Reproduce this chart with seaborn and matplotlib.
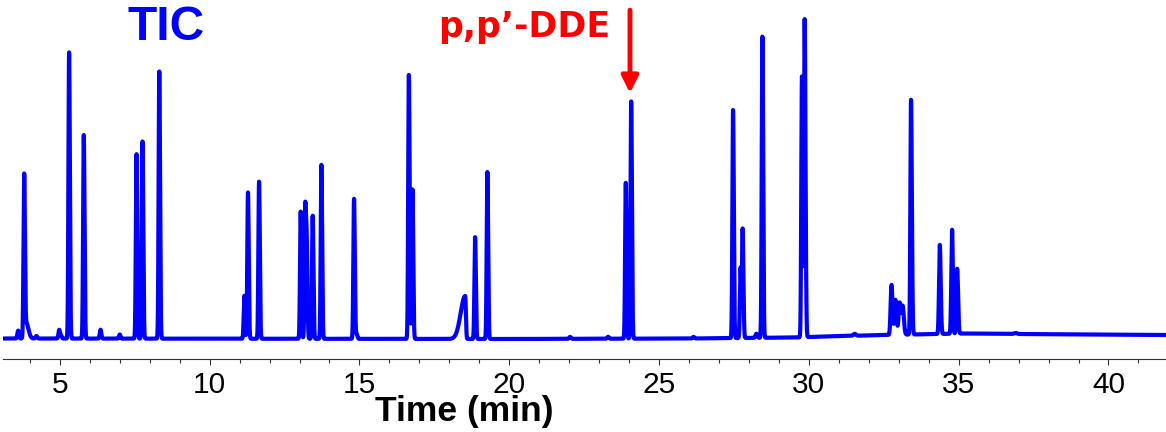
import numpy as np
import pandas as pd
import matplotlib
matplotlib.use("Agg")
import matplotlib.pyplot as plt
import seaborn as sns

# Peak table of the total ion chromatogram (retention time in min,
# height in % of the base peak, left/right peak widths in min)
rt = [3.61, 3.81, 3.88, 3.95, 4.22, 4.98, 5.04, 5.31, 5.80, 6.36, 7.00,
      7.56, 7.76, 8.32, 11.16, 11.28, 11.65, 13.04, 13.19, 13.24, 13.44,
      13.73, 14.82, 14.90, 16.65, 16.77, 18.53, 18.86, 19.27, 22.03, 23.30,
      23.89, 24.07, 26.15, 27.47, 27.72, 27.79, 28.25, 28.45, 29.77, 29.86,
      31.53, 32.76, 32.89, 33.03, 33.13, 33.41, 34.37, 34.78, 34.95, 36.90]
height = [2.5, 50.3, 4.0, 1.5, 0.8, 2.7, 1.0, 90.0, 64.0, 2.8, 1.3,
          58.0, 62.0, 84.0, 13.5, 46.0, 49.4, 40.0, 40.5, 28.0, 38.7,
          54.7, 44.0, 1.5, 83.0, 47.0, 13.5, 32.0, 52.5, 0.6, 0.6,
          49.0, 74.6, 0.5, 71.7, 22.0, 34.3, 1.3, 94.7, 82.0, 100.0,
          0.6, 15.7, 11.0, 10.0, 9.0, 73.8, 28.0, 32.7, 20.4, 0.3]
width_left = [0.025, 0.022, 0.05, 0.06, 0.03, 0.025, 0.025, 0.022, 0.022, 0.025, 0.025,
              0.022, 0.022, 0.022, 0.022, 0.022, 0.022, 0.022, 0.022, 0.022, 0.022,
              0.022, 0.022, 0.03, 0.022, 0.022, 0.15, 0.022, 0.022, 0.03, 0.03,
              0.022, 0.022, 0.03, 0.022, 0.022, 0.022, 0.03, 0.022, 0.022, 0.022,
              0.04, 0.03, 0.035, 0.035, 0.035, 0.022, 0.025, 0.025, 0.025, 0.05]
width_right = [0.025, 0.025, 0.05, 0.06, 0.03, 0.025, 0.025, 0.025, 0.025, 0.025, 0.025,
               0.025, 0.025, 0.025, 0.022, 0.025, 0.025, 0.025, 0.025, 0.025, 0.025,
               0.025, 0.025, 0.03, 0.025, 0.025, 0.022, 0.025, 0.025, 0.03, 0.03,
               0.025, 0.025, 0.03, 0.025, 0.022, 0.025, 0.03, 0.025, 0.022, 0.028,
               0.04, 0.03, 0.035, 0.035, 0.04, 0.028, 0.03, 0.025, 0.03, 0.05]

# Baseline drift of the detector signal (min, %)
base_t = [3.1, 20.0, 26.0, 29.5, 30.5, 32.5, 35.2, 37.0, 42.0]
base_v = [-0.16, -0.31, -0.16, 0.16, 0.47, 0.94, 1.42, 1.26, 0.94]

x_ticks = [5, 10, 15, 20, 25, 30, 35, 40]

# Build the trace from the peak table
t = np.arange(3.1, 41.95, 0.002)
signal = np.interp(t, base_t, base_v)
for c, h, sl, sr in zip(rt, height, width_left, width_right):
    s = np.where(t < c, sl, sr)
    signal = signal + h * np.exp(-0.5 * ((t - c) / s) ** 2)
trace = pd.DataFrame({"Time (min)": t, "Abundance": signal})

sns.set_style("white")
plt.rcParams["font.family"] = ["Liberation Sans", "DejaVu Sans"]

fig = plt.figure(figsize=(11.66, 4.32), dpi=100)
ax = fig.add_axes([3 / 1166, 73 / 432, 1163 / 1166, 359 / 432])

sns.lineplot(data=trace, x="Time (min)", y="Abundance", ax=ax,
             color="#0000ff", linewidth=3.0, estimator=None, errorbar=None)
ax.lines[0].set_solid_joinstyle("round")

ax.set_xlim(3.104, 41.92)
ax.set_ylim(-6.60, 106.29)

for side in ["left", "right", "top"]:
    ax.spines[side].set_visible(False)
ax.spines["bottom"].set_color("#333333")
ax.spines["bottom"].set_linewidth(0.8)

ax.set_yticks([])
ax.set_ylabel("")
ax.set_xticks(x_ticks)
ax.set_xticks(np.arange(4, 42, 1), minor=True)
ax.tick_params(axis="x", which="major", direction="out", length=4, width=0.8,
               color="#333333", labelsize=21.5, labelcolor="black", pad=4.5)
ax.tick_params(axis="x", which="minor", direction="out", length=2.8, width=0.8,
               color="#333333")
ax.tick_params(axis="x", which="both", bottom=True)

ax.set_xlabel("Time (min)", fontsize=25.5, fontweight="bold", color="black")
ax.xaxis.set_label_coords(0.3964, -0.10)
ax.xaxis.label.set_verticalalignment("top")

ax.text(8.54, 93.6, "TIC", ha="center", va="baseline", color="#0000ff",
        fontsize=34.5, fontweight="bold")
ax.text(20.49, 94.75, "p,p\u2019-DDE", ha="center", va="baseline", color="#ff0000",
        fontsize=25, fontweight="bold", family=["DejaVu Sans"])
ax.annotate("", xy=(24.03, 77.0), xytext=(24.03, 103.1),
            arrowprops=dict(arrowstyle="-|>,head_length=0.5,head_width=0.25",
                            color="#ff0000", lw=3.5, mutation_scale=20,
                            shrinkA=0, shrinkB=0))

fig.savefig("out.png", dpi=100)
